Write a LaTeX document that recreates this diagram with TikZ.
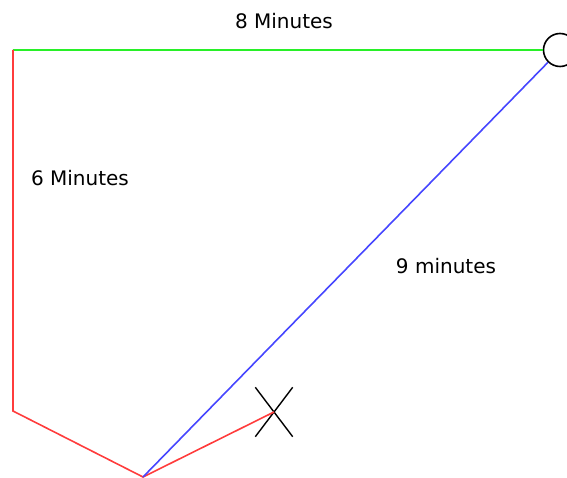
\documentclass[tikz,border=0pt]{standalone}
\usepackage{fontspec}
\setmainfont{DejaVu Sans}
\usetikzlibrary{shapes.misc}
\definecolor{lgreen}{RGB}{40,240,40}
\definecolor{lred}{RGB}{255,60,60}
\definecolor{lblue}{RGB}{70,70,255}
\tikzset{
  seg/.style={line width=1.6pt},
  lbl/.style={font=\fontsize{20}{23}\selectfont, inner sep=0pt},
}
\begin{document}
\begin{tikzpicture}[x=1pt,y=-1pt]
\useasboundingbox (0,0) rectangle (567,478);
\coordinate (tl) at (13,50);
\coordinate (bl) at (13,411);
\coordinate (bot) at (143,477);
\node[circle, draw, line width=1.6pt, minimum size=33pt, inner sep=0pt] (circ) at (560,50) {};
\node[cross out, draw, line width=1.4pt, minimum width=36pt, minimum height=48pt, inner sep=0pt] (x) at (274,412) {};
\draw[seg, lgreen] (tl) -- (circ);
\draw[seg, lred] (tl) -- (bl) -- (bot) -- (x.center);
\draw[seg, lblue] (circ) -- (bot);
\node[lbl] (t8) at (284,21) {8 Minutes};
\node[lbl] (t6) at (80,178) {6 Minutes};
\node[lbl] (t9) at (446,266) {9 minutes};
\end{tikzpicture}
\end{document}
